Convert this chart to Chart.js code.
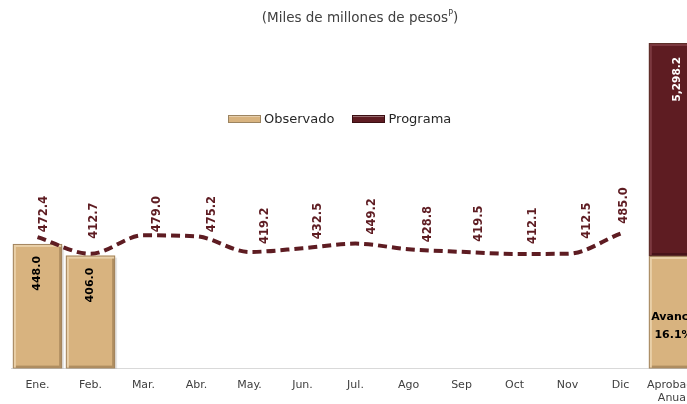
<!DOCTYPE html>
<html><head><meta charset="utf-8">
<script src="https://cdn.jsdelivr.net/npm/chart.js@4.4.1/dist/chart.umd.min.js"></script>
<style>
html,body{margin:0;padding:0;background:#fff;overflow:hidden;width:687px;height:404px;}
#wrap{position:relative;width:700px;height:415px;}
#title{position:absolute;top:9px;left:0;width:720px;text-align:center;font:13.5px 'DejaVu Sans',sans-serif;color:#404040;white-space:nowrap;}
#title sup{font-size:8px;vertical-align:6px;line-height:0;}
#legend{position:absolute;top:111px;left:228px;display:flex;align-items:center;font:13px 'DejaVu Sans',sans-serif;color:#262626;white-space:nowrap;}
.li{display:flex;align-items:center;margin-right:18px;}
.sw{width:31px;height:6px;margin-right:3px;border:1px solid;box-sizing:content-box;}
canvas{position:absolute;left:0;top:0;}
</style>
</head><body>
<div id="wrap">
<canvas id="c" width="700" height="415"></canvas>
<div id="title">(Miles de millones de pesos<sup>P</sup>)</div>
<div id="legend"></div>
</div>
<script>
// ---- data ----
const categories = ['Ene.','Feb.','Mar.','Abr.','May.','Jun.','Jul.','Ago','Sep','Oct','Nov','Dic',['Aprobado','Anual']];
const observado = [448.0, 406.0, null, null, null, null, null, null, null, null, null, null, null];
const programa = [472.4, 412.7, 479.0, 475.2, 419.2, 432.5, 449.2, 428.8, 419.5, 412.1, 412.5, 485.0, null];
const aprobadoAnual = 5298.2;
const avanceAcumulado = 854.0;
const seriesNames = ['Observado', 'Programa'];

// ---- style ----
const TAN = '#D8B37F', MAROON = '#5E1C22', TEXT = '#404040';
const progLabelDx = [7, 4, 14, 16, 16, 16, 17, 20, 18, 19, 20, 4];
const progLabelDy = [-5, -15, -3, -4, -8, -9, -9, -7, -10, -10, -15, -10];

const nCat = categories.length;
const lastIdx = nCat - 1;
const avanceData = categories.map((c, i) => i === lastIdx ? avanceAcumulado : null);
const restoData = categories.map((c, i) => i === lastIdx ? aprobadoAnual - avanceAcumulado : null);

// legend (HTML)
const lg = document.getElementById('legend');
[[seriesNames[0], TAN, '#9C8460'], [seriesNames[1], MAROON, '#3A0E12']].forEach(([name, col, bd]) => {
  const d = document.createElement('div'); d.className = 'li';
  const s = document.createElement('span'); s.className = 'sw';
  s.style.backgroundColor = col; s.style.borderColor = bd;
  s.style.boxShadow = 'inset 0 1px 0 rgba(255,255,255,0.35)';
  const t = document.createElement('span'); t.textContent = name;
  d.appendChild(s); d.appendChild(t); lg.appendChild(d);
});

const bevel = {
  id: 'bevel',
  afterDatasetDraw(chart, args) {
    const meta = args.meta;
    if (meta.type !== 'bar') return;
    const ds = chart.data.datasets[args.index];
    const ctx = chart.ctx, area = chart.chartArea;
    const isMaroon = ds.backgroundColor === MAROON;
    const light = isMaroon ? 'rgba(210,140,150,0.25)' : 'rgba(255,245,220,0.45)';
    const dark = isMaroon ? 'rgba(20,0,5,0.3)' : 'rgba(100,75,40,0.35)';
    meta.data.forEach((el, i) => {
      const v = ds.data[i];
      if (v === null || v === undefined) return;
      const p = el.getProps(['x', 'y', 'base', 'width'], true);
      const l = p.x - p.width / 2, r = p.x + p.width / 2;
      const t = Math.max(Math.min(p.y, p.base), area.top), b = Math.max(p.y, p.base);
      const e = 2;
      ctx.save();
      ctx.strokeStyle = 'rgba(90,70,50,0.45)'; ctx.lineWidth = 1;
      ctx.strokeRect(l + 0.5, t + 0.5, r - l - 1, b - t - 1);
      ctx.fillStyle = light;
      ctx.fillRect(l + 1, t + 1, r - l - 2, e);
      ctx.fillRect(l + 1, t + 1 + e, e, b - t - 2 - e);
      ctx.fillStyle = dark;
      ctx.fillRect(r - 1 - e, t + 1 + e, e, b - t - 2 - e);
      ctx.fillRect(l + 1 + e, b - 1 - e, r - l - 2 - 2 * e, e);
      ctx.fillStyle = 'rgba(0,0,0,0.10)';
      ctx.fillRect(r, t + 2, 2, b - t - 2);
      ctx.restore();
    });
  }
};

const labels = {
  id: 'labels',
  afterDraw(chart) {
    const ctx = chart.ctx, area = chart.chartArea;
    const font = 'bold 11px "DejaVu Sans", sans-serif';
    const fmt = v => v.toLocaleString('en-US', {minimumFractionDigits: 1, maximumFractionDigits: 1});
    function vtext(txt, x, y, align, color, f) {
      ctx.save(); ctx.translate(x, y); ctx.rotate(-Math.PI / 2);
      ctx.font = f || font; ctx.fillStyle = color; ctx.textAlign = align; ctx.textBaseline = 'middle';
      ctx.fillText(txt, 0, 0); ctx.restore();
    }
    // programa line labels
    const lm = chart.getDatasetMeta(0);
    lm.data.forEach((pt, i) => {
      const v = programa[i]; if (v === null) return;
      vtext(fmt(v), pt.x + progLabelDx[i], pt.y + progLabelDy[i], 'left', MAROON, 'bold 11.5px "DejaVu Sans", sans-serif');
    });
    // observado bar labels
    const om = chart.getDatasetMeta(1);
    om.data.forEach((el, i) => {
      const v = observado[i]; if (v === null) return;
      vtext(fmt(v), el.x, el.y + 12, 'right', '#000');
    });
    // aprobado anual
    const rm = chart.getDatasetMeta(3).data[lastIdx];
    vtext(fmt(aprobadoAnual), rm.x + 4, Math.max(rm.y, area.top) + 14, 'right', '#fff', 'bold 10.5px "DejaVu Sans", sans-serif');
    const am = chart.getDatasetMeta(2).data[lastIdx];
    ctx.save();
    ctx.font = 'bold 11px "DejaVu Sans", sans-serif'; ctx.fillStyle = '#000';
    ctx.textAlign = 'center'; ctx.textBaseline = 'middle';
    const pct = (avanceAcumulado / aprobadoAnual * 100).toFixed(1) + '%';
    ctx.fillText('Avance', am.x, 317);
    ctx.fillText(pct, am.x, 335);
    ctx.restore();
  }
};

new Chart(document.getElementById('c'), {
  data: {
    labels: categories,
    datasets: [
      { type: 'line', label: seriesNames[1], data: programa, yAxisID: 'y', order: 0,
        borderColor: MAROON, borderWidth: 4, borderDash: [9, 5], cubicInterpolationMode: 'monotone',
        pointRadius: 0, fill: false, borderCapStyle: 'butt' },
      { type: 'bar', label: seriesNames[0], data: observado, yAxisID: 'y', order: 1,
        backgroundColor: TAN, grouped: false, barPercentage: 0.93, categoryPercentage: 1 },
      { type: 'bar', label: 'Avance', data: avanceData, yAxisID: 'y2', stack: 'ap', order: 2,
        backgroundColor: TAN, grouped: false, barPercentage: 0.93, categoryPercentage: 1 },
      { type: 'bar', label: 'Aprobado Anual', data: restoData, yAxisID: 'y2', stack: 'ap', order: 3,
        backgroundColor: MAROON, grouped: false, barPercentage: 0.93, categoryPercentage: 1, clip: 0 }
    ]
  },
  options: {
    responsive: false, animation: false, devicePixelRatio: 1,
    layout: { padding: { left: 11, right: 0, top: 43, bottom: 0 } },
    plugins: { legend: { display: false }, tooltip: { enabled: false }, title: { display: false } },
    scales: {
      x: { grid: { display: false, drawTicks: false }, border: { display: true, color: '#D9D9D9', width: 1 },
           ticks: { color: TEXT, font: { family: 'DejaVu Sans', size: 11 }, padding: 10, maxRotation: 0, autoSkip: false },
           afterFit(scale) { scale.paddingLeft = 0; scale.paddingRight = 0; } },
      y: { display: false, min: 0, max: 1170 },
      y2: { display: false, min: 0, max: 2470, stacked: true }
    }
  },
  plugins: [bevel, labels]
});
</script>
</body></html>
